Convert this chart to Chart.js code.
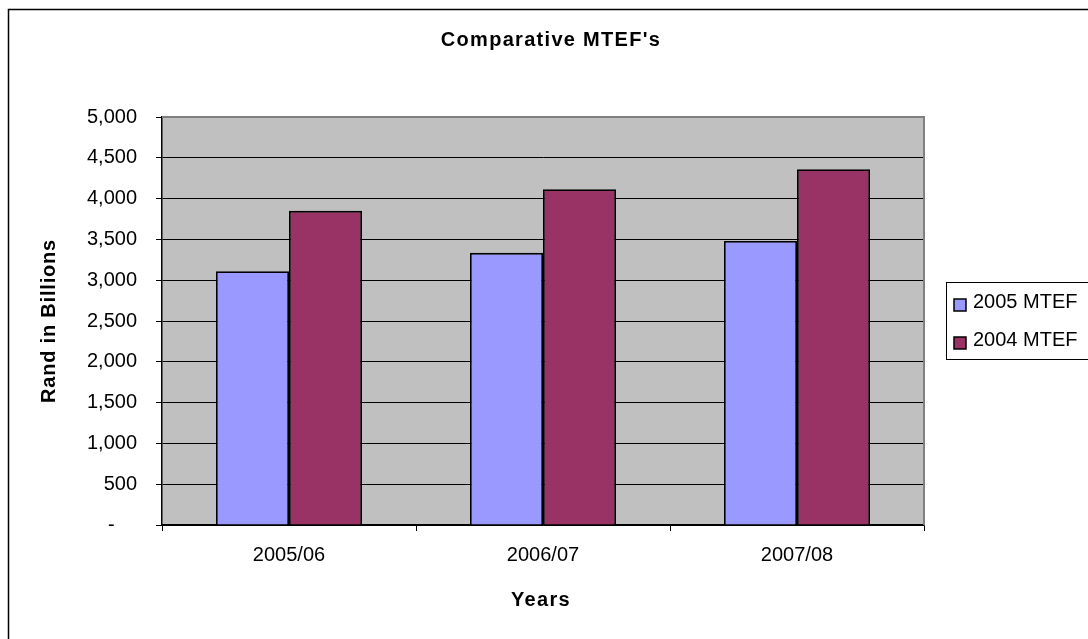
<!DOCTYPE html>
<html>
<head>
<meta charset="utf-8">
<title>Comparative MTEF's</title>
<script src="https://cdn.jsdelivr.net/npm/chart.js@4.4.1/dist/chart.umd.min.js"></script>
<style>
  html, body { margin: 0; padding: 0; background: #ffffff; }
  canvas { display: block; }
</style>
</head>
<body>
<canvas id="mtef" width="1088" height="639"></canvas>
<script>
// Financial years on the category axis
const years = ['2005/06', '2006/07', '2007/08'];

// Allocations, Rand in billions
const mtef2005 = [3110, 3335, 3480];
const mtef2004 = [3850, 4115, 4360];

// Value axis labels, bottom to top (accounting style dash for zero)
const yTickLabels = ['-    ', '500', '1,000', '1,500', '2,000', '2,500', '3,000', '3,500', '4,000', '4,500', '5,000'];

const FONT = '"Liberation Sans", Arial, sans-serif';

// Frame, plot background, titles and legend drawn around the chart area
const decorations = {
  id: 'decorations',
  beforeDraw(chart) {
    const { ctx, chartArea: a } = chart;
    ctx.save();
    ctx.fillStyle = '#ffffff';
    ctx.fillRect(0, 0, chart.width, chart.height);
    // outer frame
    ctx.strokeStyle = '#000000';
    ctx.lineWidth = 1.5;
    ctx.strokeRect(8.5, 9.5, 1200, 800);
    // plot background
    ctx.fillStyle = '#c0c0c0';
    ctx.fillRect(a.left, a.top, a.right - a.left, a.bottom - a.top);
    ctx.restore();
  },
  beforeDatasetsDraw(chart) {
    const { ctx, chartArea: a } = chart;
    ctx.save();
    ctx.strokeStyle = '#808080';
    ctx.lineWidth = 2;
    ctx.beginPath();
    ctx.moveTo(a.left, a.top);
    ctx.lineTo(a.right, a.top);
    ctx.lineTo(a.right, a.bottom);
    ctx.stroke();
    ctx.restore();
  },
  afterDraw(chart) {
    const { ctx, chartArea: a } = chart;
    ctx.save();
    ctx.fillStyle = '#000000';

    // chart title
    ctx.font = 'bold 20px ' + FONT;
    ctx.letterSpacing = '1.3px';
    ctx.textAlign = 'center';
    ctx.textBaseline = 'alphabetic';
    ctx.fillText("Comparative MTEF's", 551, 46);

    // x axis title
    ctx.fillText('Years', (a.left + a.right) / 2 - 2, 606);

    // y axis title
    ctx.save();
    ctx.translate(55, (a.top + a.bottom) / 2);
    ctx.rotate(-Math.PI / 2);
    ctx.letterSpacing = '0.8px';
    ctx.fillText('Rand in Billions', 0, 0);
    ctx.restore();

    // legend
    ctx.letterSpacing = '0px';
    ctx.strokeStyle = '#000000';
    ctx.lineWidth = 1;
    ctx.strokeRect(946.5, 282.5, 150, 77);
    const items = chart.data.datasets.map(d => ({ label: d.label, color: d.backgroundColor }));
    const rows = [305, 343];
    ctx.font = '20px ' + FONT;
    ctx.textAlign = 'left';
    items.forEach((it, i) => {
      const cy = rows[i];
      ctx.fillStyle = it.color;
      ctx.fillRect(954, cy - 6, 12, 12);
      ctx.lineWidth = 1.5;
      ctx.strokeRect(954, cy - 6, 12, 12);
      ctx.fillStyle = '#000000';
      ctx.fillText(it.label, 973, cy + 3);
    });
    ctx.restore();
  }
};

new Chart(document.getElementById('mtef'), {
  type: 'bar',
  data: {
    labels: years,
    datasets: [
      {
        label: '2005 MTEF',
        data: mtef2005,
        backgroundColor: '#9999ff',
        borderColor: '#000000',
        borderWidth: 1.8,
        borderSkipped: 'bottom'
      },
      {
        label: '2004 MTEF',
        data: mtef2004,
        backgroundColor: '#993366',
        borderColor: '#000000',
        borderWidth: 1.8,
        borderSkipped: 'bottom'
      }
    ]
  },
  options: {
    responsive: false,
    animation: false,
    devicePixelRatio: 1,
    layout: { padding: { left: 8, top: 117, right: 164, bottom: 54 } },
    categoryPercentage: 0.575,
    barPercentage: 1,
    plugins: {
      legend: { display: false },
      title: { display: false },
      tooltip: { enabled: false }
    },
    scales: {
      x: {
        offset: true,
        afterFit(scale) { scale.height = 60; },
        grid: {
          offset: true,
          drawOnChartArea: false,
          drawTicks: true,
          tickLength: 6,
          color: '#000000'
        },
        border: { display: true, color: '#000000', width: 1.5 },
        ticks: {
          color: '#000000',
          font: { family: FONT, size: 20 },
          padding: 12,
          maxRotation: 0
        }
      },
      y: {
        min: 0,
        max: 5000,
        afterFit(scale) { scale.width = 154; },
        grid: {
          color: '#000000',
          lineWidth: 1,
          tickLength: 6,
          tickColor: '#000000'
        },
        border: { display: true, color: '#000000', width: 1.5 },
        ticks: {
          stepSize: 500,
          color: '#000000',
          font: { family: FONT, size: 20 },
          padding: 19,
          callback: (value, index) => yTickLabels[index]
        }
      }
    }
  },
  plugins: [decorations]
});
</script>
</body>
</html>
